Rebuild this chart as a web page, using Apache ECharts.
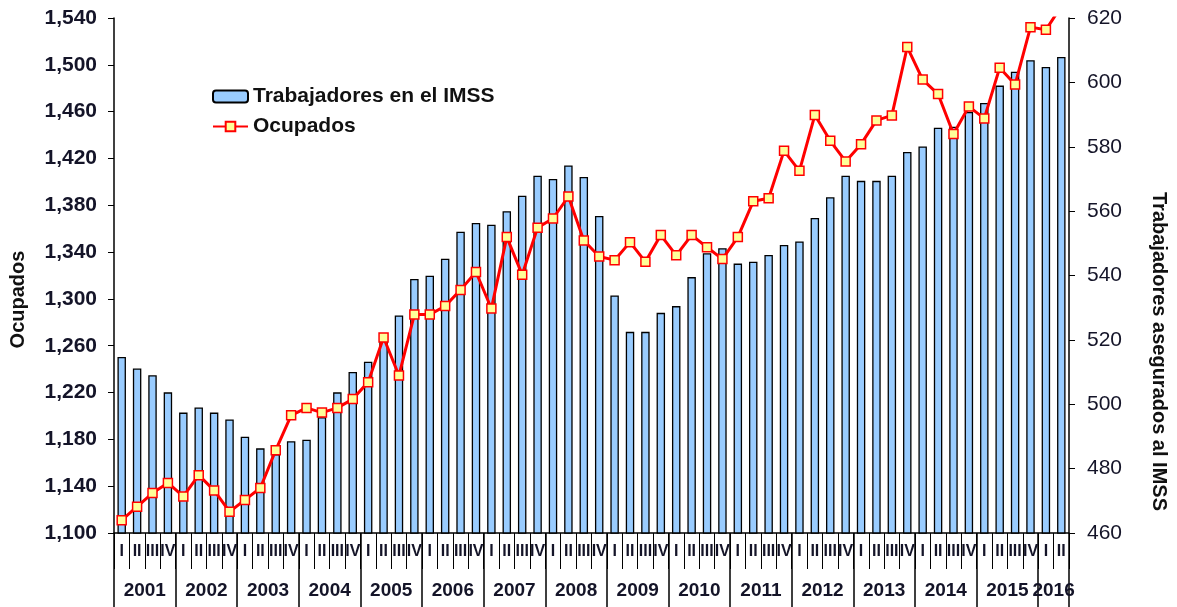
<!DOCTYPE html>
<html>
<head>
<meta charset="utf-8">
<script src="https://cdn.jsdelivr.net/npm/echarts@6/dist/echarts.min.js"></script>
<style>
html,body{margin:0;padding:0;background:#fff;}
#c{width:1177px;height:607px;}
</style>
</head>
<body>
<div id="c"></div>
<script>
const years = ['2001','2002','2003','2004','2005','2006','2007','2008','2009','2010','2011','2012','2013','2014','2015','2016'];
const quarterNames = ['I','II','III','IV'];
const quartersPerYear = [4,4,4,4,4,4,4,4,4,4,4,4,4,4,4,2];

// Trabajadores en el IMSS (right axis)
const imss = [
  514.7, 511.1, 509.0, 503.7,
  497.4, 499.0, 497.4, 495.3,
  489.9, 486.3, 484.5, 488.5,
  489.0, 496.0, 503.7, 510.0,
  513.2, 520.0, 527.6, 538.9,
  539.9, 545.2, 553.6, 556.3,
  555.8, 560.0, 564.8, 571.0,
  570.0, 574.2, 570.6, 558.5,
  533.8, 522.5, 522.5, 528.4,
  530.5, 539.5, 546.9, 548.5,
  543.7, 544.3, 546.4, 549.5,
  550.6, 557.9, 564.3, 571.0,
  569.4, 569.4, 571.0, 578.4,
  580.1, 585.9, 586.2, 590.8,
  593.6, 599.0, 603.3, 606.9,
  604.8, 607.9
];

// Ocupados (left axis)
const ocupados = [
  1111.0, 1122.5, 1134.1, 1142.8,
  1131.2, 1149.4, 1136.4, 1118.2,
  1128.3, 1138.4, 1170.8, 1200.5,
  1206.9, 1202.9, 1206.9, 1214.4,
  1228.9, 1267.0, 1234.6, 1286.6,
  1286.6, 1293.9, 1307.7, 1323.0,
  1291.8, 1352.8, 1320.7, 1360.9,
  1368.7, 1387.5, 1349.9, 1336.3,
  1333.1, 1348.5, 1331.7, 1354.5,
  1337.2, 1354.5, 1344.1, 1334.0,
  1352.8, 1383.4, 1386.0, 1426.5,
  1409.4, 1457.1, 1435.1, 1417.5,
  1432.2, 1452.5, 1456.8, 1515.2,
  1487.4, 1475.0, 1440.9, 1464.3,
  1454.2, 1497.5, 1483.1, 1532.2,
  1529.9, 1550.0
];

const categories = [];
years.forEach((y, k) => {
  for (let q = 0; q < quartersPerYear[k]; q++) categories.push(y + ' ' + quarterNames[q]);
});

// year row: boundary points 0..N
const yearSlots = [];
for (let i = 0; i <= categories.length; i++) yearSlots.push('s' + i);
const yearLabelAt = {};
const yearTickAt = {};
let start = 0;
years.forEach((y, k) => {
  yearTickAt[start] = true;
  yearLabelAt[start + quartersPerYear[k] / 2] = y;
  start += quartersPerYear[k];
});
yearTickAt[start] = true;

const FONT = "'Liberation Sans', Arial, sans-serif";
const TXT = '#141428';

const chart = echarts.init(document.getElementById('c'), null, {renderer: 'canvas'});
chart.setOption({
  animation: false,
  backgroundColor: '#fff',
  textStyle: {fontFamily: FONT},
  grid: {left: 112, right: 105, top: 18, bottom: 74, containLabel: false},
  legend: {
    orient: 'vertical',
    left: 207, top: 81,
    itemWidth: 35, itemHeight: 12, itemGap: 9,
    textStyle: {fontFamily: FONT, fontSize: 21, fontWeight: 'bold', color: '#111'},
    data: ['Trabajadores en el IMSS', 'Ocupados']
  },
  xAxis: [
    {
      type: 'category',
      data: categories,
      position: 'bottom',
      boundaryGap: true,
      axisLine: {show: true, lineStyle: {color: '#000', width: 1.5}},
      axisTick: {show: true, interval: 0, length: 36, lineStyle: {color: '#000', width: 1}},
      axisLabel: {
        interval: 0, margin: 11,
        fontFamily: FONT, fontSize: 16, fontWeight: 'bold', color: TXT,
        formatter: v => v.split(' ')[1]
      },
      splitLine: {show: false}
    },
    {
      type: 'category',
      data: yearSlots,
      position: 'bottom',
      boundaryGap: false,
      min: 0, max: yearSlots.length - 1,
      axisLine: {show: false},
      axisTick: {show: true, length: 74, interval: (i) => !!yearTickAt[i], lineStyle: {color: '#000', width: 1.5}},
      axisLabel: {
        interval: (i) => yearLabelAt[i] !== undefined,
        margin: 48,
        fontFamily: FONT, fontSize: 19, fontWeight: 'bold', color: TXT,
        formatter: (v, i) => yearLabelAt[i] || ''
      },
      splitLine: {show: false}
    }
  ],
  yAxis: [
    {
      type: 'value',
      position: 'left',
      min: 1100, max: 1540, interval: 40,
      name: 'Ocupados',
      nameLocation: 'middle',
      nameGap: 86,
      nameTextStyle: {fontFamily: FONT, fontSize: 20, fontWeight: 'bold', color: '#111', padding: [0, 48, 0, 0]},
      axisLine: {show: true, lineStyle: {color: '#000', width: 1.5}},
      axisTick: {show: true, length: 6, lineStyle: {color: '#000'}},
      axisLabel: {
        margin: 17,
        fontFamily: FONT, fontSize: 21, fontWeight: 'bold', color: TXT,
        formatter: v => v.toLocaleString('en-US')
      },
      splitLine: {show: false}
    },
    {
      type: 'value',
      position: 'right',
      min: 460, max: 620, interval: 20,
      name: 'Trabajadores asegurados al IMSS',
      nameLocation: 'middle',
      nameGap: 80,
      nameRotate: -90,
      nameTextStyle: {fontFamily: FONT, fontSize: 20, fontWeight: 'bold', color: '#111', padding: [0, 0, 0, 152]},
      axisLine: {show: true, lineStyle: {color: '#000', width: 1.5}},
      axisTick: {show: true, length: 6, lineStyle: {color: '#000'}},
      axisLabel: {
        margin: 18,
        fontFamily: FONT, fontSize: 21, color: TXT
      },
      splitLine: {show: false}
    }
  ],
  series: [
    {
      name: 'Trabajadores en el IMSS',
      type: 'bar',
      xAxisIndex: 0,
      yAxisIndex: 1,
      data: imss,
      barWidth: '55%',
      itemStyle: {color: '#99ccff', borderColor: '#000', borderWidth: 1.3},
      z: 2
    },
    {
      name: 'Ocupados',
      type: 'line',
      xAxisIndex: 0,
      yAxisIndex: 0,
      data: ocupados,
      symbol: 'rect',
      symbolSize: 9,
      showAllSymbol: true,
      clip: true,
      lineStyle: {color: '#ff0000', width: 3},
      itemStyle: {color: '#ffff99', borderColor: '#ff0000', borderWidth: 1.5},
      z: 3
    }
  ]
});
</script>
</body>
</html>
